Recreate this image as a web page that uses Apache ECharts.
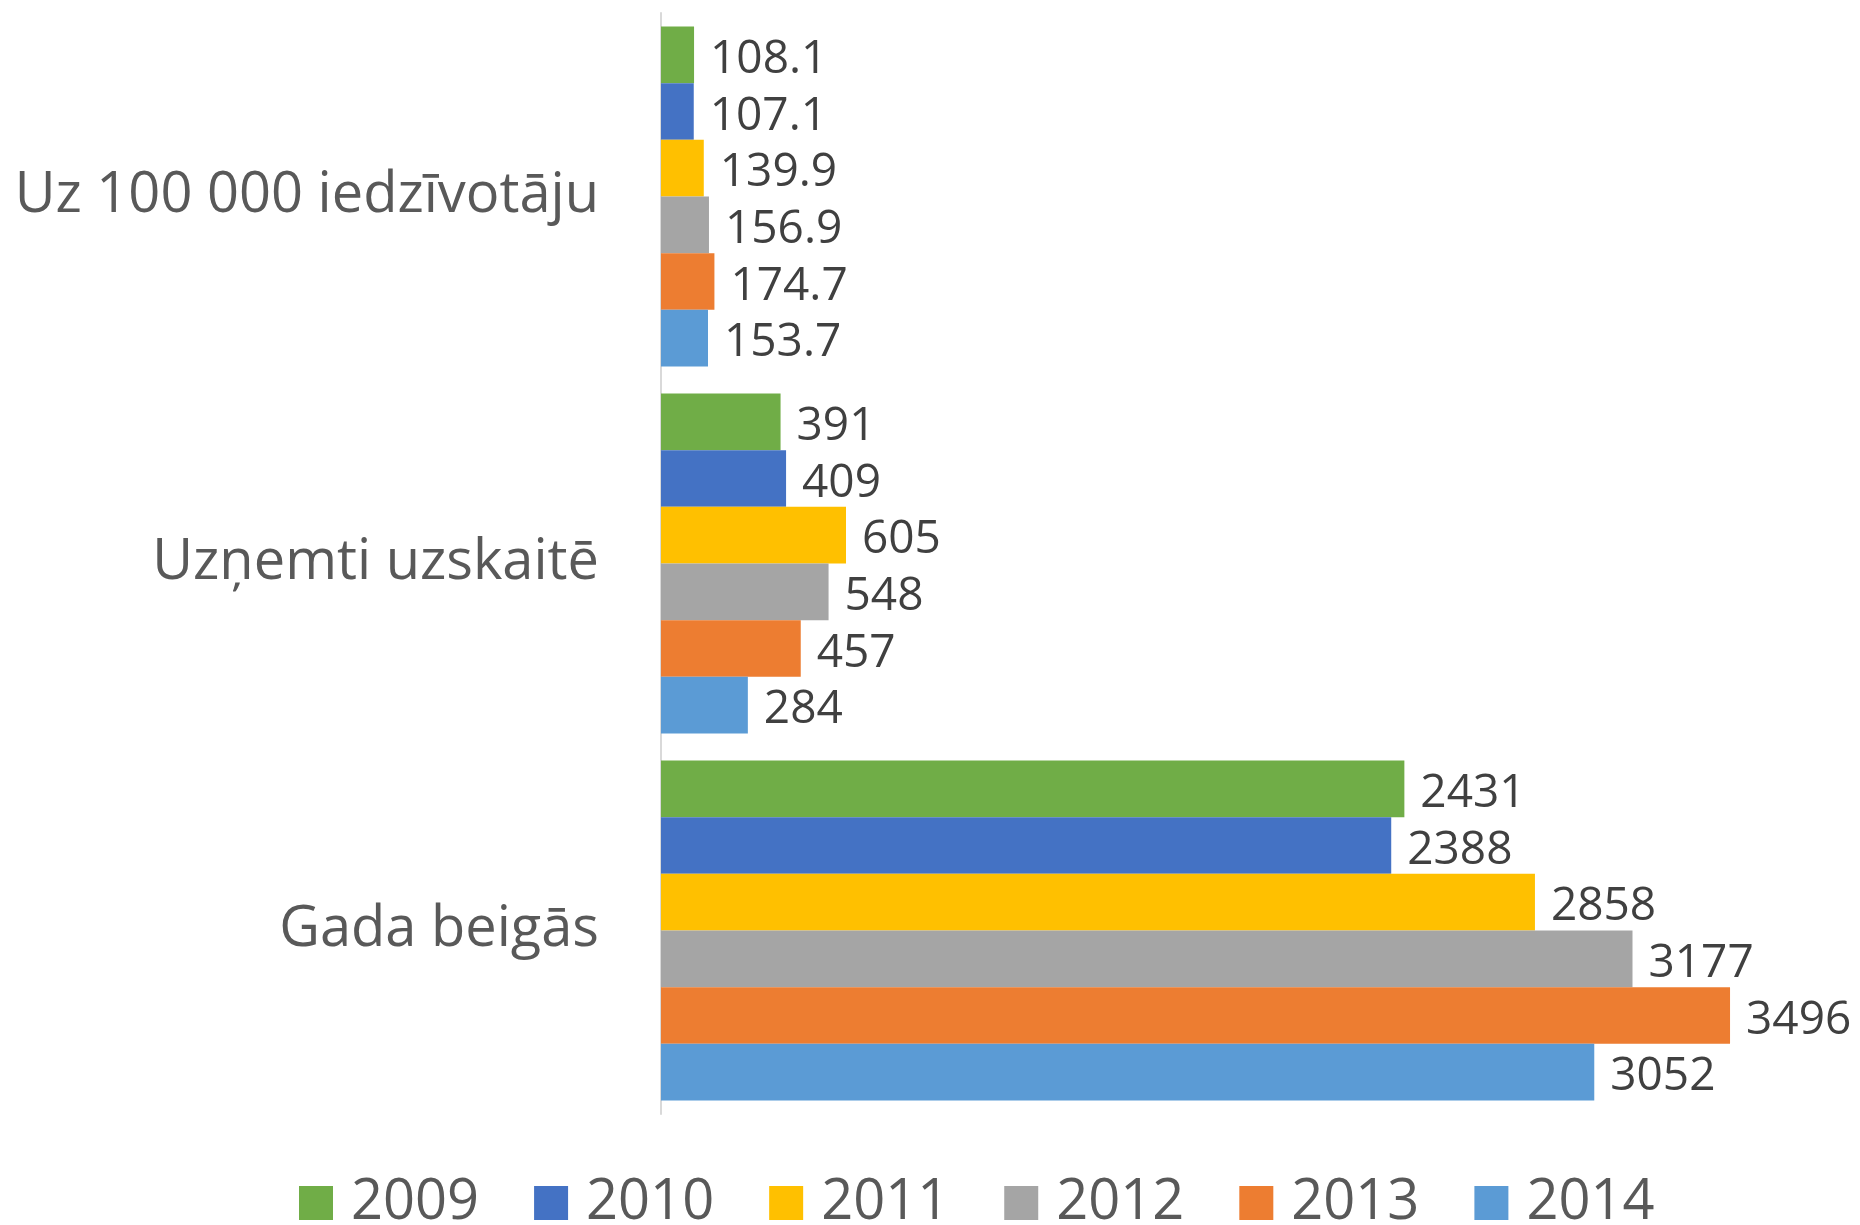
<!DOCTYPE html>
<html>
<head>
<meta charset="utf-8">
<script src="https://cdn.jsdelivr.net/npm/echarts@6/dist/echarts.min.js"></script>
<style>
  html, body { margin: 0; padding: 0; background: #fff; }
  #chart { width: 1860px; height: 1225px; }
</style>
</head>
<body>
<div id="chart"></div>
<script>
// kategorijas (no augšas uz leju)
const categories = ['Uz 100 000 iedzīvotāju', 'Uzņemti uzskaitē', 'Gada beigās'];
const years = ['2009', '2010', '2011', '2012', '2013', '2014'];
const colors = ['#70AD47', '#4472C4', '#FFC000', '#A5A5A5', '#ED7D31', '#5B9BD5'];

// vērtības pa gadiem
const v2009 = [108.1, 391, 2431];
const v2010 = [107.1, 409, 2388];
const v2011 = [139.9, 605, 2858];
const v2012 = [156.9, 548, 3177];
const v2013 = [174.7, 457, 3496];
const v2014 = [153.7, 284, 3052];
const values = [v2009, v2010, v2011, v2012, v2013, v2014];

const font = '"Open Sans", sans-serif';

let chart = echarts.init(document.getElementById('chart'), null, { renderer: 'canvas' });

let series = years.map((y, i) => ({
  name: y,
  type: 'bar',
  data: values[i],
  barGap: '0%',
  barCategoryGap: '7.4%',
  itemStyle: { color: colors[i] },
  label: {
    show: true,
    position: 'right',
    distance: 16,
    offset: [0, 5],
    color: '#404040',
    fontFamily: font,
    fontSize: 46
  }
}));

chart.setOption({
  animation: false,
  backgroundColor: '#fff',
  grid: { left: 661, right: 37, top: 13, bottom: 111, containLabel: false },
  xAxis: {
    type: 'value',
    min: 0,
    max: 3800,
    show: false
  },
  yAxis: {
    type: 'category',
    data: categories,
    inverse: true,
    axisLine: { show: true, lineStyle: { color: '#D9D9D9', width: 2 } },
    axisTick: { show: false },
    axisLabel: {
      color: '#595959',
      fontFamily: font,
      fontSize: 56,
      margin: 62,
      padding: [6, 0, 0, 0]
    }
  },
  legend: {
    data: years,
    left: 294,
    top: 1170,
    itemWidth: 34,
    itemHeight: 34,
    itemGap: 55,
    icon: 'rect',
    textStyle: { color: '#595959', fontFamily: font, fontSize: 56, padding: [0, 0, 0, 13] }
  },
  series: series
});
</script>
</body>
</html>
